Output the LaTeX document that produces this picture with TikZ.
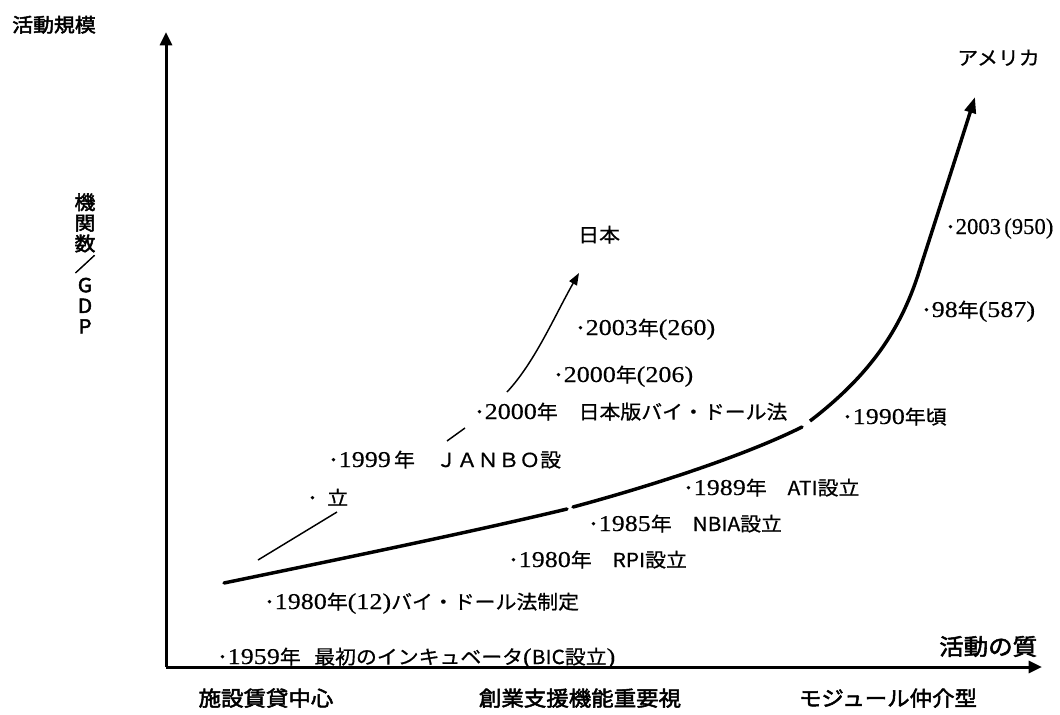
\documentclass[tikz,border=0pt]{standalone}
\usepackage{fontspec}
\usetikzlibrary{arrows.meta}
\setmainfont[FakeStretch=1.08,FakeBold=0.7]{Noto Sans CJK JP}
\newfontfamily\jpbold[FakeStretch=1.08,FakeBold=2.4]{Noto Sans CJK JP}
\newfontfamily\rmdigits[FakeStretch=1.15,FakeBold=0.3]{Liberation Serif}
\newfontfamily\rmcond[FakeStretch=1.0,FakeBold=0.3]{Liberation Serif}
\newcommand\dg[1]{{\rmdigits\fontsize{17pt}{20pt}\selectfont #1}}
\newcommand\dgc[1]{{\rmcond\fontsize{17pt}{20pt}\selectfont #1}}
\tikzset{
  lbl/.style={anchor=base west, inner sep=0pt, font=\fontsize{14.5pt}{17pt}\selectfont},
  boldlbl/.style={anchor=base west, inner sep=0pt, font=\jpbold\fontsize{14.5pt}{17pt}\selectfont},
  bottomlbl/.style={anchor=base, inner sep=0pt, font=\jpbold\fontsize{15.6pt}{18pt}\selectfont},
  axis/.style={line width=2.25pt, -{Triangle[length=10pt,width=9pt]}},
  uscurve/.style={line width=2.6pt, line cap=round},
  jpcurve/.style={line width=1.1pt},
}
\begin{document}
\begin{tikzpicture}[x=0.75pt,y=-0.75pt]
\useasboundingbox (0,0) rectangle (1060,714);
% axes
\coordinate (O) at (166,667);
\coordinate (ytip) at (166,32);
\coordinate (xtip) at (1042,667);
\draw[axis] (O) -- (ytip);
\draw[axis] (O) -- (xtip);
% axis labels
\node[boldlbl] (ylab) at (12,32) {活動規模};
\node[boldlbl, font=\jpbold\fontsize{17pt}{20pt}\selectfont] (xlab) at (939,655) {活動の質};
\node[anchor=north, inner sep=0pt, align=center, font=\jpbold\fontsize{14.5pt}{15.5pt}\selectfont] (vlab) at (85,193) {機\\関\\数\\／\\G\\D\\P};
% bottom categories
\node[bottomlbl] (c1) at (266,706) {施設賃貸中心};
\node[bottomlbl] (c2) at (580,706) {創業支援機能重要視};
\node[bottomlbl] (c3) at (888,706) {モジュール仲介型};
% America curve
\coordinate (us0) at (224,583);
\coordinate (us1) at (567,509);
\coordinate (us2) at (573,507);
\coordinate (us3) at (802,427);
\coordinate (us4) at (810,421);
\coordinate (us5) at (918,275);
\coordinate (us6) at (975,97);
\draw[uscurve] (us0) .. controls (350,557) and (480,530) .. (us1);
\draw[uscurve] (us2) .. controls (640,489) and (740,458) .. (us3);
\draw[uscurve, line cap=butt, -{Triangle[length=12pt,width=8.5pt]}] (us4) .. controls (870,375) and (900,330) .. (us5) .. controls (935,222) and (955,160) .. (us6);
% Japan curve
\coordinate (jp0) at (258,560);
\coordinate (jp1) at (337,512);
\coordinate (jp2) at (447,441);
\coordinate (jp3) at (465,428);
\coordinate (jp4) at (507,392);
\coordinate (jp5) at (579,273);
\draw[jpcurve] (jp0) -- (jp1);
\draw[jpcurve] (jp2) -- (jp3);
\draw[jpcurve, -{Triangle[length=9pt,width=6.5pt]}] (jp4) .. controls (535,362) and (555,315) .. (jp5);
% country labels
\node[lbl] (us) at (957,65) {アメリカ};
\node[lbl] (jp) at (578,242) {日本};
% America events
\node[lbl] (e1) at (945,234) {･\dgc{2003}\,\dgc{(950)}};
\node[lbl] (e2) at (921,317) {･\dg{98}年\dg{(587)}};
\node[lbl] (e3) at (842,424) {･\dg{1990}年頃};
\node[lbl] (e4) at (683,495) {･\dg{1989}年　ATI設立};
\node[lbl] (e5) at (588,531) {･\dg{1985}年　NBIA設立};
\node[lbl] (e6) at (508,567) {･\dg{1980}年　RPI設立};
\node[lbl] (e7) at (264,609) {･\dg{1980}年\dg{(12)}バイ・ドール法制定};
\node[lbl] (e8) at (217,664) {･\dg{1959}年\hspace{0.7em}最初のインキュベータ\dg{(}BIC設立\dg{)}};
% Japan events
\node[lbl] (j1) at (575,335) {･\dg{2003}年\dg{(260)}};
\node[lbl] (j2) at (553,382) {･\dg{2000}年\dg{(206)}};
\node[lbl] (j3) at (474,419) {･\dg{2000}年　日本版バイ・ドール法};
\node[lbl] (j4) at (328,467) {･\dg{1999}\,年　ＪＡＮＢＯ設};
\node[lbl] (j5) at (307,505) {･\hspace{0.5em}立};
\end{tikzpicture}
\end{document}
